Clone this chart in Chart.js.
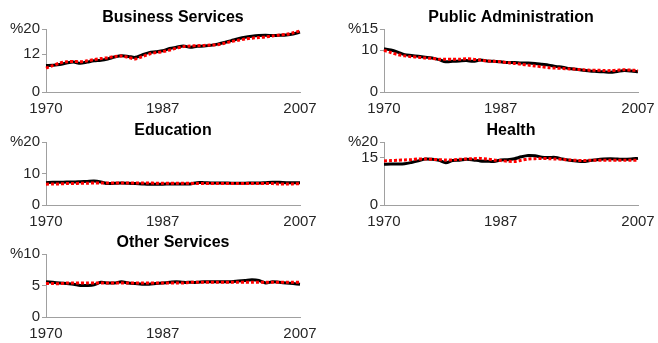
<!DOCTYPE html>
<html>
<head>
<meta charset="utf-8">
<script src="https://cdn.jsdelivr.net/npm/chart.js@4"></script>
<style>
  html, body { margin: 0; padding: 0; background: #fff; width: 658px; height: 343px; overflow: hidden; }
  canvas { position: absolute; }
</style>
</head>
<body>
<canvas id="pBusiness" width="320" height="121" style="left:0px;top:0px"></canvas>
<canvas id="pPublic" width="320" height="121" style="left:338px;top:0px"></canvas>
<canvas id="pEducation" width="320" height="121" style="left:0px;top:113px"></canvas>
<canvas id="pHealth" width="320" height="121" style="left:338px;top:113px"></canvas>
<canvas id="pOther" width="320" height="121" style="left:0px;top:225px"></canvas>
<script>
// Years on the horizontal axis
const years = [1970, 1971, 1972, 1973, 1974, 1975, 1976, 1977, 1978, 1979,
               1980, 1981, 1982, 1983, 1984, 1985, 1986, 1987, 1988, 1989,
               1990, 1991, 1992, 1993, 1994, 1995, 1996, 1997, 1998, 1999,
               2000, 2001, 2002, 2003, 2004, 2005, 2006, 2007];
const labelledYears = [1970, 1987, 2007];

// Employment shares (%), solid black and dotted red series per sector
const businessSolid = [8.4, 8.5, 8.7, 9.2, 9.5, 9.1, 9.5, 9.9, 10.1, 10.5,
                       11.1, 11.5, 11.3, 11.0, 11.8, 12.5, 12.8, 13.1, 13.8, 14.2,
                       14.6, 14.2, 14.5, 14.6, 14.8, 15.2, 15.7, 16.3, 16.9, 17.4,
                       17.7, 17.9, 18.0, 17.9, 18.0, 18.1, 18.4, 19.0];
const businessDotted = [7.6, 8.4, 9.2, 9.6, 9.7, 9.6, 9.9, 10.3, 10.6, 10.9,
                        11.3, 11.4, 11.0, 10.5, 11.2, 12.0, 12.5, 12.8, 13.3, 13.9,
                        14.4, 14.6, 14.7, 14.8, 14.9, 15.0, 15.5, 16.0, 16.4, 16.8,
                        17.1, 17.3, 17.5, 17.8, 18.1, 18.3, 18.8, 19.4];

const publicSolid = [10.3, 10.0, 9.5, 8.9, 8.7, 8.5, 8.3, 8.1, 7.7, 7.2,
                     7.3, 7.4, 7.5, 7.3, 7.6, 7.4, 7.3, 7.2, 7.0, 7.0,
                     6.9, 6.9, 6.8, 6.6, 6.4, 6.1, 5.9, 5.6, 5.4, 5.2,
                     5.0, 4.9, 4.8, 4.7, 4.9, 5.1, 5.0, 4.8];
const publicDotted = [9.9, 9.4, 8.9, 8.6, 8.4, 8.3, 8.1, 8.0, 7.8, 7.8,
                      7.8, 7.8, 7.9, 7.8, 7.6, 7.4, 7.3, 7.2, 7.0, 6.8,
                      6.6, 6.4, 6.2, 6.0, 5.8, 5.7, 5.6, 5.5, 5.4, 5.3,
                      5.2, 5.2, 5.1, 5.1, 5.2, 5.3, 5.2, 5.1];

const educationSolid = [7.1, 7.2, 7.2, 7.3, 7.3, 7.4, 7.5, 7.6, 7.3, 6.8,
                        6.9, 7.0, 6.9, 6.8, 6.7, 6.6, 6.6, 6.6, 6.7, 6.7,
                        6.7, 6.7, 7.1, 7.1, 7.0, 7.0, 7.0, 6.9, 6.9, 6.9,
                        7.0, 7.0, 7.1, 7.2, 7.2, 7.1, 7.1, 7.1];
const educationDotted = [6.6, 6.7, 6.7, 6.8, 6.8, 6.9, 6.9, 7.0, 7.0, 7.0,
                         7.0, 7.0, 7.0, 7.0, 7.0, 7.0, 6.9, 6.9, 6.9, 6.9,
                         6.9, 6.9, 6.8, 6.8, 6.8, 6.8, 6.8, 6.8, 6.8, 6.8,
                         6.8, 6.8, 6.8, 6.8, 6.7, 6.7, 6.7, 6.8];

const healthSolid = [12.9, 13.0, 13.0, 13.1, 13.5, 14.0, 14.6, 14.5, 14.2, 13.4,
                     14.1, 14.2, 14.5, 14.3, 14.0, 13.9, 13.8, 14.3, 14.4, 14.7,
                     15.3, 15.7, 15.6, 15.2, 15.1, 15.1, 14.6, 14.2, 14.0, 13.8,
                     14.1, 14.4, 14.6, 14.7, 14.6, 14.5, 14.6, 14.8];
const healthDotted = [14.0, 14.1, 14.2, 14.3, 14.4, 14.6, 14.6, 14.5, 14.4, 14.3,
                      14.3, 14.5, 14.6, 14.7, 14.8, 14.6, 14.3, 14.1, 13.9, 13.8,
                      14.2, 14.6, 14.7, 14.8, 14.7, 14.6, 14.5, 14.3, 14.2, 14.1,
                      14.2, 14.2, 14.2, 14.2, 14.2, 14.2, 14.2, 14.2];

const otherSolid = [5.6, 5.5, 5.4, 5.3, 5.2, 5.0, 5.0, 5.1, 5.5, 5.4,
                    5.4, 5.6, 5.4, 5.3, 5.2, 5.2, 5.3, 5.4, 5.5, 5.6,
                    5.5, 5.5, 5.5, 5.6, 5.6, 5.6, 5.6, 5.6, 5.7, 5.8,
                    5.9, 5.8, 5.4, 5.6, 5.5, 5.4, 5.3, 5.2];
const otherDotted = [5.3, 5.3, 5.3, 5.4, 5.4, 5.4, 5.4, 5.4, 5.4, 5.4,
                     5.4, 5.4, 5.4, 5.4, 5.4, 5.4, 5.4, 5.4, 5.4, 5.4,
                     5.4, 5.5, 5.5, 5.5, 5.5, 5.5, 5.5, 5.5, 5.5, 5.5,
                     5.5, 5.5, 5.5, 5.5, 5.5, 5.5, 5.5, 5.5];

// Value-axis ticks for each panel
const businessTicks = [0, 12, 20];
const publicTicks = [0, 10, 15];
const educationTicks = [0, 10, 20];
const healthTicks = [0, 15, 20];
const otherTicks = [0, 5, 10];

const FONT = '"Liberation Sans", Arial, sans-serif';
const AXIS_GREY = '#a0a0a0';
const TEXT_GREY = '#262626';

// Bold title centred above each plot area
const panelTitle = {
  id: 'panelTitle',
  afterDraw(chart, args, opts) {
    const ctx = chart.ctx, a = chart.chartArea;
    ctx.save();
    ctx.font = 'bold 16px ' + FONT;
    ctx.fillStyle = '#000';
    ctx.textAlign = 'center';
    ctx.textBaseline = 'middle';
    ctx.fillText(opts.text, (a.left + a.right) / 2, a.top - 11);
    ctx.restore();
  }
};

function makePanel(id, title, solid, dotted, ticks) {
  const top = ticks[ticks.length - 1];
  return new Chart(document.getElementById(id), {
    type: 'line',
    data: {
      labels: years,
      datasets: [
        { data: solid, borderColor: '#000', borderWidth: 3, pointRadius: 0, tension: 0.3, order: 2 },
        { data: dotted, borderColor: '#ff0000', borderWidth: 3, borderDash: [3, 2], pointRadius: 0, tension: 0.3, order: 1 }
      ]
    },
    options: {
      responsive: false,
      animation: false,
      events: [],
      layout: { padding: { top: 29, right: 20, left: 0, bottom: 0 } },
      plugins: { legend: { display: false }, tooltip: { enabled: false }, panelTitle: { text: title } },
      scales: {
        x: {
          type: 'category',
          offset: false,
          afterFit(scale) { scale.height = 29; scale.paddingLeft = 0; scale.paddingRight = 0; },
          grid: { display: false, drawTicks: false },
          border: { color: AXIS_GREY, width: 1 },
          ticks: {
            autoSkip: false, maxRotation: 0, minRotation: 0, padding: 8,
            color: TEXT_GREY, font: { size: 15, family: FONT },
            callback(v, i) { return labelledYears.includes(years[i]) ? String(years[i]) : ''; }
          }
        },
        y: {
          min: 0, max: top,
          afterBuildTicks(scale) { scale.ticks = ticks.map(v => ({ value: v })); },
          afterFit(scale) { scale.width = 46; },
          grid: { drawOnChartArea: false, tickLength: 4, color: AXIS_GREY },
          border: { color: AXIS_GREY, width: 1 },
          ticks: {
            padding: 2, color: TEXT_GREY, font: { size: 15, family: FONT },
            callback(v) { return v === top ? '%' + v : String(v); }
          }
        }
      }
    },
    plugins: [panelTitle]
  });
}

makePanel('pBusiness', 'Business Services', businessSolid, businessDotted, businessTicks);
makePanel('pPublic', 'Public Administration', publicSolid, publicDotted, publicTicks);
makePanel('pEducation', 'Education', educationSolid, educationDotted, educationTicks);
makePanel('pHealth', 'Health', healthSolid, healthDotted, healthTicks);
makePanel('pOther', 'Other Services', otherSolid, otherDotted, otherTicks);
</script>
</body>
</html>
